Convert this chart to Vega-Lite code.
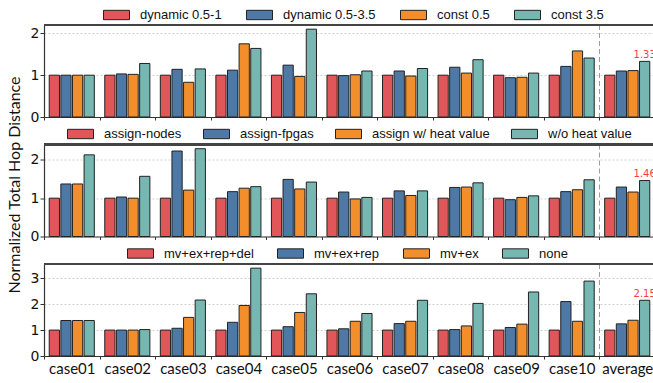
{
  "$schema": "https://vega.github.io/schema/vega-lite/v6.json",
  "padding": {"left": 6, "top": 7, "right": 0, "bottom": 3},
  "background": "white",
  "datasets": {
    "p1": [
      {"case": "case01", "method": "dynamic 0.5-1", "value": 1}, {"case": "case01", "method": "dynamic 0.5-3.5", "value": 1}, {"case": "case01", "method": "const 0.5", "value": 1}, {"case": "case01", "method": "const 3.5", "value": 1},
      {"case": "case02", "method": "dynamic 0.5-1", "value": 1}, {"case": "case02", "method": "dynamic 0.5-3.5", "value": 1.03}, {"case": "case02", "method": "const 0.5", "value": 1.02}, {"case": "case02", "method": "const 3.5", "value": 1.28},
      {"case": "case03", "method": "dynamic 0.5-1", "value": 1}, {"case": "case03", "method": "dynamic 0.5-3.5", "value": 1.14}, {"case": "case03", "method": "const 0.5", "value": 0.83}, {"case": "case03", "method": "const 3.5", "value": 1.15},
      {"case": "case04", "method": "dynamic 0.5-1", "value": 1}, {"case": "case04", "method": "dynamic 0.5-3.5", "value": 1.12}, {"case": "case04", "method": "const 0.5", "value": 1.75}, {"case": "case04", "method": "const 3.5", "value": 1.64},
      {"case": "case05", "method": "dynamic 0.5-1", "value": 1}, {"case": "case05", "method": "dynamic 0.5-3.5", "value": 1.24}, {"case": "case05", "method": "const 0.5", "value": 0.97}, {"case": "case05", "method": "const 3.5", "value": 2.1},
      {"case": "case06", "method": "dynamic 0.5-1", "value": 1}, {"case": "case06", "method": "dynamic 0.5-3.5", "value": 0.99}, {"case": "case06", "method": "const 0.5", "value": 1.01}, {"case": "case06", "method": "const 3.5", "value": 1.1},
      {"case": "case07", "method": "dynamic 0.5-1", "value": 1}, {"case": "case07", "method": "dynamic 0.5-3.5", "value": 1.1}, {"case": "case07", "method": "const 0.5", "value": 0.98}, {"case": "case07", "method": "const 3.5", "value": 1.16},
      {"case": "case08", "method": "dynamic 0.5-1", "value": 1}, {"case": "case08", "method": "dynamic 0.5-3.5", "value": 1.19}, {"case": "case08", "method": "const 0.5", "value": 1.05}, {"case": "case08", "method": "const 3.5", "value": 1.37},
      {"case": "case09", "method": "dynamic 0.5-1", "value": 1}, {"case": "case09", "method": "dynamic 0.5-3.5", "value": 0.94}, {"case": "case09", "method": "const 0.5", "value": 0.95}, {"case": "case09", "method": "const 3.5", "value": 1.05},
      {"case": "case10", "method": "dynamic 0.5-1", "value": 1}, {"case": "case10", "method": "dynamic 0.5-3.5", "value": 1.21}, {"case": "case10", "method": "const 0.5", "value": 1.58}, {"case": "case10", "method": "const 3.5", "value": 1.41},
      {"case": "average", "method": "dynamic 0.5-1", "value": 1}, {"case": "average", "method": "dynamic 0.5-3.5", "value": 1.1}, {"case": "average", "method": "const 0.5", "value": 1.11}, {"case": "average", "method": "const 3.5", "value": 1.33}
    ],
    "p2": [
      {"case": "case01", "method": "assign-nodes", "value": 1}, {"case": "case01", "method": "assign-fpgas", "value": 1.37}, {"case": "case01", "method": "assign w/ heat value", "value": 1.37}, {"case": "case01", "method": "w/o heat value", "value": 2.13},
      {"case": "case02", "method": "assign-nodes", "value": 1}, {"case": "case02", "method": "assign-fpgas", "value": 1.03}, {"case": "case02", "method": "assign w/ heat value", "value": 1.0}, {"case": "case02", "method": "w/o heat value", "value": 1.57},
      {"case": "case03", "method": "assign-nodes", "value": 1}, {"case": "case03", "method": "assign-fpgas", "value": 2.23}, {"case": "case03", "method": "assign w/ heat value", "value": 1.21}, {"case": "case03", "method": "w/o heat value", "value": 2.29},
      {"case": "case04", "method": "assign-nodes", "value": 1}, {"case": "case04", "method": "assign-fpgas", "value": 1.17}, {"case": "case04", "method": "assign w/ heat value", "value": 1.26}, {"case": "case04", "method": "w/o heat value", "value": 1.3},
      {"case": "case05", "method": "assign-nodes", "value": 1}, {"case": "case05", "method": "assign-fpgas", "value": 1.49}, {"case": "case05", "method": "assign w/ heat value", "value": 1.24}, {"case": "case05", "method": "w/o heat value", "value": 1.42},
      {"case": "case06", "method": "assign-nodes", "value": 1}, {"case": "case06", "method": "assign-fpgas", "value": 1.16}, {"case": "case06", "method": "assign w/ heat value", "value": 0.98}, {"case": "case06", "method": "w/o heat value", "value": 1.02},
      {"case": "case07", "method": "assign-nodes", "value": 1}, {"case": "case07", "method": "assign-fpgas", "value": 1.19}, {"case": "case07", "method": "assign w/ heat value", "value": 1.07}, {"case": "case07", "method": "w/o heat value", "value": 1.19},
      {"case": "case08", "method": "assign-nodes", "value": 1}, {"case": "case08", "method": "assign-fpgas", "value": 1.28}, {"case": "case08", "method": "assign w/ heat value", "value": 1.29}, {"case": "case08", "method": "w/o heat value", "value": 1.4},
      {"case": "case09", "method": "assign-nodes", "value": 1}, {"case": "case09", "method": "assign-fpgas", "value": 0.96}, {"case": "case09", "method": "assign w/ heat value", "value": 1.02}, {"case": "case09", "method": "w/o heat value", "value": 1.06},
      {"case": "case10", "method": "assign-nodes", "value": 1}, {"case": "case10", "method": "assign-fpgas", "value": 1.17}, {"case": "case10", "method": "assign w/ heat value", "value": 1.22}, {"case": "case10", "method": "w/o heat value", "value": 1.48},
      {"case": "average", "method": "assign-nodes", "value": 1}, {"case": "average", "method": "assign-fpgas", "value": 1.29}, {"case": "average", "method": "assign w/ heat value", "value": 1.16}, {"case": "average", "method": "w/o heat value", "value": 1.46}
    ],
    "p3": [
      {"case": "case01", "method": "mv+ex+rep+del", "value": 1}, {"case": "case01", "method": "mv+ex+rep", "value": 1.37}, {"case": "case01", "method": "mv+ex", "value": 1.37}, {"case": "case01", "method": "none", "value": 1.37},
      {"case": "case02", "method": "mv+ex+rep+del", "value": 1}, {"case": "case02", "method": "mv+ex+rep", "value": 1.0}, {"case": "case02", "method": "mv+ex", "value": 1.0}, {"case": "case02", "method": "none", "value": 1.02},
      {"case": "case03", "method": "mv+ex+rep+del", "value": 1}, {"case": "case03", "method": "mv+ex+rep", "value": 1.07}, {"case": "case03", "method": "mv+ex", "value": 1.49}, {"case": "case03", "method": "none", "value": 2.16},
      {"case": "case04", "method": "mv+ex+rep+del", "value": 1}, {"case": "case04", "method": "mv+ex+rep", "value": 1.3}, {"case": "case04", "method": "mv+ex", "value": 1.95}, {"case": "case04", "method": "none", "value": 3.39},
      {"case": "case05", "method": "mv+ex+rep+del", "value": 1}, {"case": "case05", "method": "mv+ex+rep", "value": 1.13}, {"case": "case05", "method": "mv+ex", "value": 1.68}, {"case": "case05", "method": "none", "value": 2.4},
      {"case": "case06", "method": "mv+ex+rep+del", "value": 1}, {"case": "case06", "method": "mv+ex+rep", "value": 1.05}, {"case": "case06", "method": "mv+ex", "value": 1.34}, {"case": "case06", "method": "none", "value": 1.64},
      {"case": "case07", "method": "mv+ex+rep+del", "value": 1}, {"case": "case07", "method": "mv+ex+rep", "value": 1.25}, {"case": "case07", "method": "mv+ex", "value": 1.34}, {"case": "case07", "method": "none", "value": 2.15},
      {"case": "case08", "method": "mv+ex+rep+del", "value": 1}, {"case": "case08", "method": "mv+ex+rep", "value": 1.02}, {"case": "case08", "method": "mv+ex", "value": 1.16}, {"case": "case08", "method": "none", "value": 2.03},
      {"case": "case09", "method": "mv+ex+rep+del", "value": 1}, {"case": "case09", "method": "mv+ex+rep", "value": 1.1}, {"case": "case09", "method": "mv+ex", "value": 1.23}, {"case": "case09", "method": "none", "value": 2.47},
      {"case": "case10", "method": "mv+ex+rep+del", "value": 1}, {"case": "case10", "method": "mv+ex+rep", "value": 2.1}, {"case": "case10", "method": "mv+ex", "value": 1.34}, {"case": "case10", "method": "none", "value": 2.89},
      {"case": "average", "method": "mv+ex+rep+del", "value": 1}, {"case": "average", "method": "mv+ex+rep", "value": 1.24}, {"case": "average", "method": "mv+ex", "value": 1.38}, {"case": "average", "method": "none", "value": 2.15}
    ]
  },
  "config": {
    "view": {"stroke": null},
    "axis": {"domainColor": "#333", "tickColor": "#333", "domainWidth": 1.2},
    "legend": {
      "orient": "none", "direction": "horizontal", "columns": 4, "title": null,
      "labelFont": "Liberation Sans", "labelFontSize": 13, "labelColor": "#111",
      "symbolType": "M-1,-0.36H1V0.36H-1Z", "symbolSize": 676, "symbolStrokeColor": "#222",
      "symbolStrokeWidth": 1, "symbolOpacity": 1, "clipHeight": 15, "labelOffset": 10,
      "columnPadding": 25, "padding": 0
    }
  },
  "bounds": "flush",
  "spacing": 27.5,
  "resolve": {"scale": {"color": "independent", "y": "independent", "x": "independent", "xOffset": "independent"}, "legend": {"color": "independent"}},
  "vconcat": [
    {
      "data": {"name": "p1"},
      "width": 611, "height": 92,
      "layer": [
        {
          "mark": {"type": "bar", "stroke": "#222", "strokeWidth": 1},
          "encoding": {
            "x": {"field": "case", "type": "nominal", "sort": null, "scale": {"paddingInner": 0, "paddingOuter": 0}, "axis": {"title": null, "labels": false, "tickBand": "extent", "tickSize": 3}},
            "xOffset": {"field": "method", "type": "nominal", "sort": ["dynamic 0.5-1", "dynamic 0.5-3.5", "const 0.5", "const 3.5"], "scale": {"paddingInner": 0.12, "paddingOuter": 0.45}},
            "y": {"field": "value", "type": "quantitative", "scale": {"domain": [0, 2.2], "nice": false}, "axis": {"title": null, "values": [0, 1, 2], "tickCount": 10, "format": ".0f", "tickSize": 4, "labelFont": "DejaVu Sans", "labelFontSize": 14, "labelColor": "#111", "labelPadding": 1, "grid": true, "gridDash": [2, 2], "gridColor": "#d0d0d0"}},
            "color": {"field": "method", "type": "nominal", "sort": ["dynamic 0.5-1", "dynamic 0.5-3.5", "const 0.5", "const 3.5"], "scale": {"domain": ["dynamic 0.5-1", "dynamic 0.5-3.5", "const 0.5", "const 3.5"], "range": ["#e15759", "#4e79a7", "#f28e2b", "#76b7b2"]}, "legend": {"legendX": 59, "legendY": -17.5, "columnPadding": 24}}
          }
        },
        {
          "transform": [{"filter": "datum.case === 'average' && datum.method === 'const 3.5'"}],
          "mark": {"type": "rule", "color": "#999", "strokeDash": [5, 3], "strokeWidth": 1},
          "encoding": {"x": {"field": "case", "type": "nominal", "sort": null, "bandPosition": 0}}
        },
        {
          "mark": {"type": "rule", "color": "#444", "strokeWidth": 1.3},
          "encoding": {"y": {"datum": 2.2, "type": "quantitative"}}
        },
        {
          "transform": [{"filter": "datum.case === 'average' && datum.method === 'const 3.5'"}],
          "mark": {"type": "text", "color": "#ff3b3b", "fontSize": 10, "font": "DejaVu Sans", "baseline": "alphabetic", "dy": -3.5},
          "encoding": {
            "x": {"field": "case", "type": "nominal", "sort": null},
            "xOffset": {"field": "method", "type": "nominal", "sort": ["dynamic 0.5-1", "dynamic 0.5-3.5", "const 0.5", "const 3.5"]},
            "y": {"field": "value", "type": "quantitative"},
            "text": {"field": "value", "type": "quantitative", "format": ".2f"}
          }
        }
      ]
    },
    {
      "data": {"name": "p2"},
      "width": 611, "height": 92,
      "layer": [
        {
          "mark": {"type": "bar", "stroke": "#222", "strokeWidth": 1},
          "encoding": {
            "x": {"field": "case", "type": "nominal", "sort": null, "scale": {"paddingInner": 0, "paddingOuter": 0}, "axis": {"title": null, "labels": false, "tickBand": "extent", "tickSize": 3}},
            "xOffset": {"field": "method", "type": "nominal", "sort": ["assign-nodes", "assign-fpgas", "assign w/ heat value", "w/o heat value"], "scale": {"paddingInner": 0.12, "paddingOuter": 0.45}},
            "y": {"field": "value", "type": "quantitative", "scale": {"domain": [0, 2.4], "nice": false}, "axis": {"title": "Normalized Total Hop Distance", "titleFont": "Lato", "titleFontSize": 16, "titleFontWeight": "normal", "titleColor": "#111", "titleY": 40, "titlePadding": 8, "values": [0, 1, 2], "tickCount": 10, "format": ".0f", "tickSize": 4, "labelFont": "DejaVu Sans", "labelFontSize": 14, "labelColor": "#111", "labelPadding": 1, "grid": true, "gridDash": [2, 2], "gridColor": "#d0d0d0"}},
            "color": {"field": "method", "type": "nominal", "sort": ["assign-nodes", "assign-fpgas", "assign w/ heat value", "w/o heat value"], "scale": {"domain": ["assign-nodes", "assign-fpgas", "assign w/ heat value", "w/o heat value"], "range": ["#e15759", "#4e79a7", "#f28e2b", "#76b7b2"]}, "legend": {"legendX": 23, "legendY": -18, "columnPadding": 21}}
          }
        },
        {
          "transform": [{"filter": "datum.case === 'average' && datum.method === 'w/o heat value'"}],
          "mark": {"type": "rule", "color": "#999", "strokeDash": [5, 3], "strokeWidth": 1},
          "encoding": {"x": {"field": "case", "type": "nominal", "sort": null, "bandPosition": 0}}
        },
        {
          "mark": {"type": "rule", "color": "#444", "strokeWidth": 1.3},
          "encoding": {"y": {"datum": 2.4, "type": "quantitative"}}
        },
        {
          "transform": [{"filter": "datum.case === 'average' && datum.method === 'w/o heat value'"}],
          "mark": {"type": "text", "color": "#ff3b3b", "fontSize": 10, "font": "DejaVu Sans", "baseline": "alphabetic", "dy": -3.5},
          "encoding": {
            "x": {"field": "case", "type": "nominal", "sort": null},
            "xOffset": {"field": "method", "type": "nominal", "sort": ["assign-nodes", "assign-fpgas", "assign w/ heat value", "w/o heat value"]},
            "y": {"field": "value", "type": "quantitative"},
            "text": {"field": "value", "type": "quantitative", "format": ".2f"}
          }
        }
      ]
    },
    {
      "data": {"name": "p3"},
      "width": 611, "height": 92,
      "layer": [
        {
          "mark": {"type": "bar", "stroke": "#222", "strokeWidth": 1},
          "encoding": {
            "x": {"field": "case", "type": "nominal", "sort": null, "scale": {"paddingInner": 0, "paddingOuter": 0}, "axis": {"title": null, "labelAngle": 0, "labelFont": "Lato", "labelFontSize": 15, "labelColor": "#111", "labelPadding": 2, "tickBand": "extent", "tickSize": 3}},
            "xOffset": {"field": "method", "type": "nominal", "sort": ["mv+ex+rep+del", "mv+ex+rep", "mv+ex", "none"], "scale": {"paddingInner": 0.12, "paddingOuter": 0.45}},
            "y": {"field": "value", "type": "quantitative", "scale": {"domain": [0, 3.55], "nice": false}, "axis": {"title": null, "values": [0, 1, 2, 3], "tickCount": 10, "format": ".0f", "tickSize": 4, "labelFont": "DejaVu Sans", "labelFontSize": 14, "labelColor": "#111", "labelPadding": 1, "labelOverlap": false, "grid": true, "gridDash": [2, 2], "gridColor": "#d0d0d0"}},
            "color": {"field": "method", "type": "nominal", "sort": ["mv+ex+rep+del", "mv+ex+rep", "mv+ex", "none"], "scale": {"domain": ["mv+ex+rep+del", "mv+ex+rep", "mv+ex", "none"], "range": ["#e15759", "#4e79a7", "#f28e2b", "#76b7b2"]}, "legend": {"legendX": 83, "legendY": -18, "columnPadding": 23}}
          }
        },
        {
          "transform": [{"filter": "datum.case === 'average' && datum.method === 'none'"}],
          "mark": {"type": "rule", "color": "#999", "strokeDash": [5, 3], "strokeWidth": 1},
          "encoding": {"x": {"field": "case", "type": "nominal", "sort": null, "bandPosition": 0}}
        },
        {
          "mark": {"type": "rule", "color": "#444", "strokeWidth": 1.3},
          "encoding": {"y": {"datum": 3.55, "type": "quantitative"}}
        },
        {
          "transform": [{"filter": "datum.case === 'average' && datum.method === 'none'"}],
          "mark": {"type": "text", "color": "#ff3b3b", "fontSize": 10, "font": "DejaVu Sans", "baseline": "alphabetic", "dy": -3.5},
          "encoding": {
            "x": {"field": "case", "type": "nominal", "sort": null},
            "xOffset": {"field": "method", "type": "nominal", "sort": ["mv+ex+rep+del", "mv+ex+rep", "mv+ex", "none"]},
            "y": {"field": "value", "type": "quantitative"},
            "text": {"field": "value", "type": "quantitative", "format": ".2f"}
          }
        }
      ]
    }
  ]
}
